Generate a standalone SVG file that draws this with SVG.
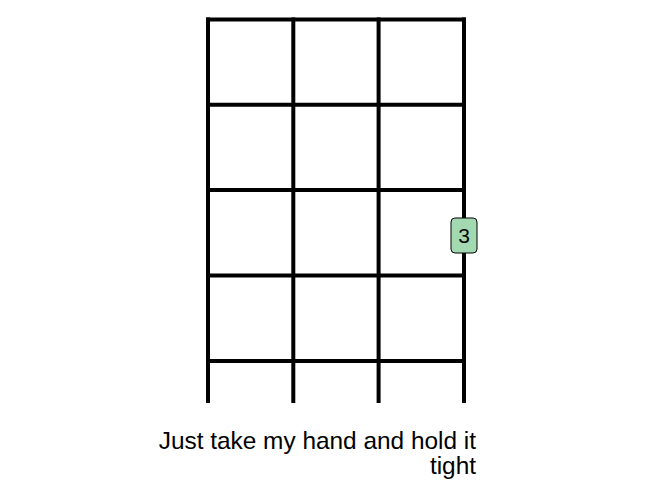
<svg xmlns="http://www.w3.org/2000/svg" width="672" height="480" viewBox="0 0 672 480">
<style>
.s{stroke:#000;stroke-width:4;fill:none}
.lbl{font-family:"Liberation Sans",Arial,sans-serif;fill:#000}
</style>
<rect width="672" height="480" fill="#fff"/>
<g id="grid">
<line class="s" x1="206" y1="19.5" x2="466" y2="19.5"/>
<line class="s" x1="206" y1="104.8" x2="466" y2="104.8"/>
<line class="s" x1="206" y1="190.1" x2="466" y2="190.1"/>
<line class="s" x1="206" y1="275.4" x2="466" y2="275.4"/>
<line class="s" x1="206" y1="361" x2="466" y2="361"/>
<line class="s" x1="208" y1="17.5" x2="208" y2="403"/>
<line class="s" x1="293.3" y1="17.5" x2="293.3" y2="403"/>
<line class="s" x1="378.6" y1="17.5" x2="378.6" y2="403"/>
<line class="s" x1="464" y1="17.5" x2="464" y2="403"/>
</g>
<g id="finger3">
<rect x="451" y="218" width="26" height="35" rx="4" fill="#a3d9b1" stroke="#000" stroke-width="1"/>
<text class="lbl" x="464" y="243" font-size="21" text-anchor="middle">3</text>
</g>
<g id="lyric">
<text class="lbl" x="476" y="449" font-size="24.4" text-anchor="end">Just take my hand and hold it</text>
<text class="lbl" x="476" y="474" font-size="24.4" text-anchor="end">tight</text>
</g>
</svg>
